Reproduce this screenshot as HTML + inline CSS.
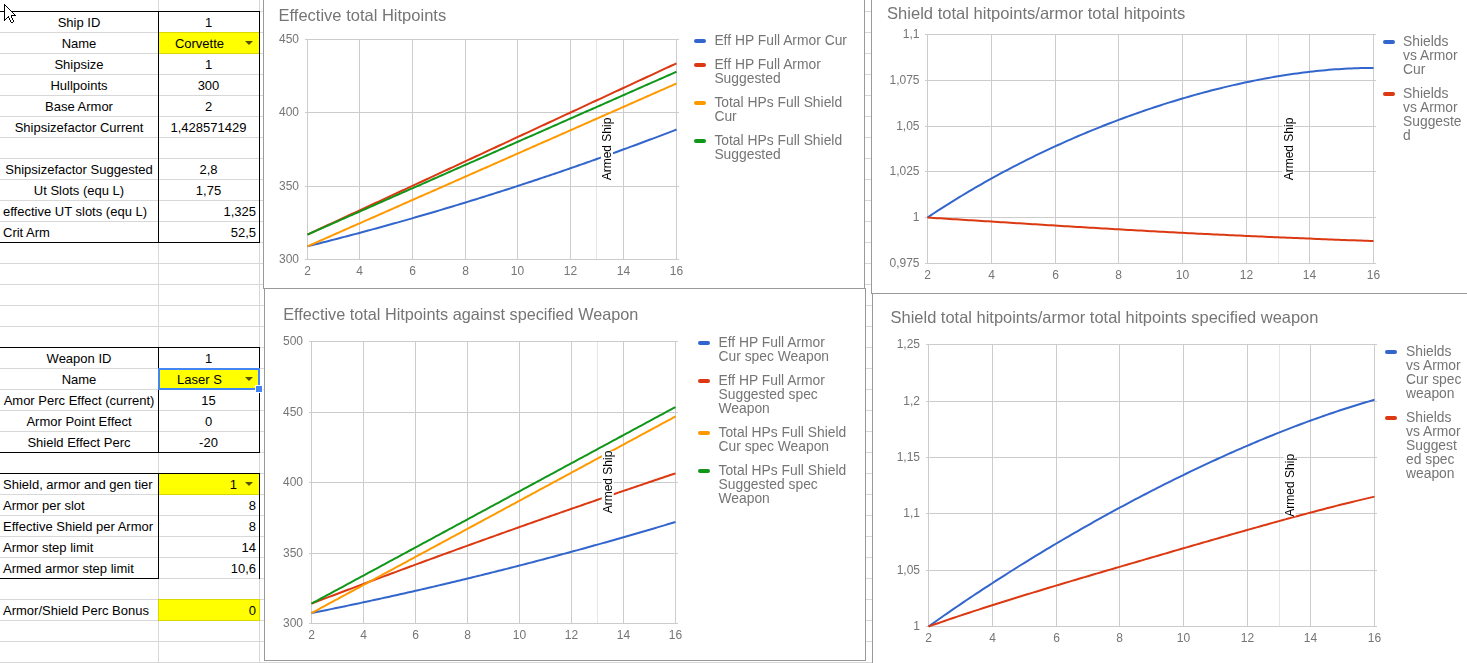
<!DOCTYPE html>
<html><head><meta charset="utf-8"><title>Sheet</title><style>
html,body{margin:0;padding:0;background:#fff;width:1467px;height:663px;overflow:hidden}
svg{display:block}
text{font-family:"Liberation Sans", sans-serif}
</style></head><body>
<svg width="1467" height="663" viewBox="0 0 1467 663">
<defs><filter id="gs" x="0" y="0" width="1467" height="663" filterUnits="userSpaceOnUse"><feColorMatrix type="identity"/></filter></defs>
<rect x="158" y="32" width="102" height="22" fill="#ffff00" />
<rect x="158" y="368" width="102" height="22" fill="#ffff00" />
<rect x="158" y="473" width="102" height="22" fill="#ffff00" />
<rect x="158" y="599" width="102" height="22" fill="#ffff00" />
<g opacity="0.15">
<rect x="0" y="11" width="1467" height="1" fill="#000" />
<rect x="0" y="32" width="1467" height="1" fill="#000" />
<rect x="0" y="53" width="1467" height="1" fill="#000" />
<rect x="0" y="74" width="1467" height="1" fill="#000" />
<rect x="0" y="95" width="1467" height="1" fill="#000" />
<rect x="0" y="116" width="1467" height="1" fill="#000" />
<rect x="0" y="137" width="1467" height="1" fill="#000" />
<rect x="0" y="158" width="1467" height="1" fill="#000" />
<rect x="0" y="179" width="1467" height="1" fill="#000" />
<rect x="0" y="200" width="1467" height="1" fill="#000" />
<rect x="0" y="221" width="1467" height="1" fill="#000" />
<rect x="0" y="242" width="1467" height="1" fill="#000" />
<rect x="0" y="263" width="1467" height="1" fill="#000" />
<rect x="0" y="284" width="1467" height="1" fill="#000" />
<rect x="0" y="305" width="1467" height="1" fill="#000" />
<rect x="0" y="326" width="1467" height="1" fill="#000" />
<rect x="0" y="347" width="1467" height="1" fill="#000" />
<rect x="0" y="368" width="1467" height="1" fill="#000" />
<rect x="0" y="389" width="1467" height="1" fill="#000" />
<rect x="0" y="410" width="1467" height="1" fill="#000" />
<rect x="0" y="431" width="1467" height="1" fill="#000" />
<rect x="0" y="452" width="1467" height="1" fill="#000" />
<rect x="0" y="473" width="1467" height="1" fill="#000" />
<rect x="0" y="494" width="1467" height="1" fill="#000" />
<rect x="0" y="515" width="1467" height="1" fill="#000" />
<rect x="0" y="536" width="1467" height="1" fill="#000" />
<rect x="0" y="557" width="1467" height="1" fill="#000" />
<rect x="0" y="578" width="1467" height="1" fill="#000" />
<rect x="0" y="599" width="1467" height="1" fill="#000" />
<rect x="0" y="620" width="1467" height="1" fill="#000" />
<rect x="0" y="641" width="1467" height="1" fill="#000" />
<rect x="0" y="662" width="1467" height="1" fill="#000" />
<rect x="158" y="0" width="1" height="663" fill="#000" />
<rect x="259" y="0" width="1" height="663" fill="#000" />
</g>
<rect x="0" y="11" width="260" height="1" fill="#000" />
<rect x="0" y="242" width="260" height="1" fill="#000" />
<rect x="158" y="11" width="1" height="232" fill="#000" />
<rect x="259" y="11" width="1" height="232" fill="#000" />
<rect x="0" y="347" width="260" height="1" fill="#000" />
<rect x="0" y="452" width="260" height="1" fill="#000" />
<rect x="158" y="347" width="1" height="106" fill="#000" />
<rect x="259" y="347" width="1" height="106" fill="#000" />
<rect x="0" y="473" width="260" height="1" fill="#000" />
<rect x="0" y="578" width="159" height="1" fill="#000" />
<rect x="158" y="473" width="1" height="106" fill="#000" />
<rect x="259" y="473" width="1" height="106" fill="#000" />
<text x="79" y="27" font-size="13" fill="#000" text-anchor="middle" >Ship ID</text>
<text x="208.5" y="27" font-size="13" fill="#000" text-anchor="middle" >1</text>
<text x="79" y="48" font-size="13" fill="#000" text-anchor="middle" >Name</text>
<text x="199.5" y="48" font-size="13" fill="#000" text-anchor="middle" >Corvette</text>
<path d="M245 41 L253 41 L249 45 Z" fill="rgba(0,0,0,0.68)"/>
<text x="79" y="69" font-size="13" fill="#000" text-anchor="middle" >Shipsize</text>
<text x="208.5" y="69" font-size="13" fill="#000" text-anchor="middle" >1</text>
<text x="79" y="90" font-size="13" fill="#000" text-anchor="middle" >Hullpoints</text>
<text x="208.5" y="90" font-size="13" fill="#000" text-anchor="middle" >300</text>
<text x="79" y="111" font-size="13" fill="#000" text-anchor="middle" >Base Armor</text>
<text x="208.5" y="111" font-size="13" fill="#000" text-anchor="middle" >2</text>
<text x="79" y="132" font-size="13" fill="#000" text-anchor="middle" >Shipsizefactor Current</text>
<text x="208.5" y="132" font-size="13" fill="#000" text-anchor="middle" >1,428571429</text>
<text x="79" y="174" font-size="13" fill="#000" text-anchor="middle" >Shipsizefactor Suggested</text>
<text x="208.5" y="174" font-size="13" fill="#000" text-anchor="middle" >2,8</text>
<text x="79" y="195" font-size="13" fill="#000" text-anchor="middle" >Ut Slots (equ L)</text>
<text x="208.5" y="195" font-size="13" fill="#000" text-anchor="middle" >1,75</text>
<text x="3" y="216" font-size="13" fill="#000" text-anchor="start" >effective UT slots (equ L)</text>
<text x="256" y="216" font-size="13" fill="#000" text-anchor="end" >1,325</text>
<text x="3" y="237" font-size="13" fill="#000" text-anchor="start" >Crit Arm</text>
<text x="256" y="237" font-size="13" fill="#000" text-anchor="end" >52,5</text>
<text x="79" y="363" font-size="13" fill="#000" text-anchor="middle" >Weapon ID</text>
<text x="208.5" y="363" font-size="13" fill="#000" text-anchor="middle" >1</text>
<text x="79" y="384" font-size="13" fill="#000" text-anchor="middle" >Name</text>
<text x="199.5" y="384" font-size="13" fill="#000" text-anchor="middle" >Laser S</text>
<path d="M245 377 L253 377 L249 381 Z" fill="rgba(0,0,0,0.68)"/>
<text x="79" y="405" font-size="13" fill="#000" text-anchor="middle" >Amor Perc Effect (current)</text>
<text x="208.5" y="405" font-size="13" fill="#000" text-anchor="middle" >15</text>
<text x="79" y="426" font-size="13" fill="#000" text-anchor="middle" >Armor Point Effect</text>
<text x="208.5" y="426" font-size="13" fill="#000" text-anchor="middle" >0</text>
<text x="79" y="447" font-size="13" fill="#000" text-anchor="middle" >Shield Effect Perc</text>
<text x="208.5" y="447" font-size="13" fill="#000" text-anchor="middle" >-20</text>
<text x="3" y="489" font-size="13" fill="#000" text-anchor="start" >Shield, armor and gen tier</text>
<text x="237" y="489" font-size="13" fill="#000" text-anchor="end" >1</text>
<path d="M245 482 L253 482 L249 486 Z" fill="rgba(0,0,0,0.68)"/>
<text x="3" y="510" font-size="13" fill="#000" text-anchor="start" >Armor per slot</text>
<text x="256" y="510" font-size="13" fill="#000" text-anchor="end" >8</text>
<text x="3" y="531" font-size="13" fill="#000" text-anchor="start" >Effective Shield per Armor</text>
<text x="256" y="531" font-size="13" fill="#000" text-anchor="end" >8</text>
<text x="3" y="552" font-size="13" fill="#000" text-anchor="start" >Armor step limit</text>
<text x="256" y="552" font-size="13" fill="#000" text-anchor="end" >14</text>
<text x="3" y="573" font-size="13" fill="#000" text-anchor="start" >Armed armor step limit</text>
<text x="256" y="573" font-size="13" fill="#000" text-anchor="end" >10,6</text>
<text x="3" y="615" font-size="13" fill="#000" text-anchor="start" >Armor/Shield Perc Bonus</text>
<text x="256" y="615" font-size="13" fill="#000" text-anchor="end" >0</text>
<rect x="158" y="368" width="102" height="2" fill="#4285f4" />
<rect x="158" y="388" width="102" height="2" fill="#4285f4" />
<rect x="158" y="368" width="2" height="22" fill="#4285f4" />
<rect x="258" y="368" width="2" height="22" fill="#4285f4" />
<rect x="255" y="385" width="8" height="8" fill="#fff" />
<rect x="256" y="386" width="6" height="6" fill="#4285f4" />
<rect x="263" y="-5" width="602" height="294" fill="#fff" />
<g filter="url(#gs)">
<rect x="263" y="-5" width="602" height="1" fill="#9a9a9a" />
<rect x="263" y="288" width="602" height="1" fill="#9a9a9a" />
<rect x="263" y="-5" width="1" height="294" fill="#9a9a9a" />
<rect x="864" y="-5" width="1" height="294" fill="#9a9a9a" />
<text x="278.5" y="21.200000000000003" font-size="16.5" fill="#757575" text-anchor="start" textLength="167.7" lengthAdjust="spacingAndGlyphs">Effective total Hitpoints</text>
<rect x="596" y="39" width="1" height="221" fill="#e6e6e6" />
<rect x="305" y="39" width="374" height="1" fill="#cccccc" />
<rect x="305" y="112" width="374" height="1" fill="#cccccc" />
<rect x="305" y="186" width="374" height="1" fill="#cccccc" />
<rect x="305" y="259" width="374" height="1" fill="#cccccc" />
<rect x="307" y="39" width="1" height="221" fill="#cccccc" />
<rect x="359" y="39" width="1" height="221" fill="#cccccc" />
<rect x="412" y="39" width="1" height="221" fill="#cccccc" />
<rect x="465" y="39" width="1" height="221" fill="#cccccc" />
<rect x="517" y="39" width="1" height="221" fill="#cccccc" />
<rect x="570" y="39" width="1" height="221" fill="#cccccc" />
<rect x="623" y="39" width="1" height="221" fill="#cccccc" />
<rect x="676" y="39" width="1" height="221" fill="#cccccc" />
<text x="299" y="42.9" font-size="12" fill="#757575" text-anchor="end" >450</text>
<text x="299" y="115.9" font-size="12" fill="#757575" text-anchor="end" >400</text>
<text x="299" y="189.9" font-size="12" fill="#757575" text-anchor="end" >350</text>
<text x="299" y="262.9" font-size="12" fill="#757575" text-anchor="end" >300</text>
<text x="307.5" y="275" font-size="12" fill="#757575" text-anchor="middle" >2</text>
<text x="359.5" y="275" font-size="12" fill="#757575" text-anchor="middle" >4</text>
<text x="412.5" y="275" font-size="12" fill="#757575" text-anchor="middle" >6</text>
<text x="465.5" y="275" font-size="12" fill="#757575" text-anchor="middle" >8</text>
<text x="517.5" y="275" font-size="12" fill="#757575" text-anchor="middle" >10</text>
<text x="570.5" y="275" font-size="12" fill="#757575" text-anchor="middle" >12</text>
<text x="623.5" y="275" font-size="12" fill="#757575" text-anchor="middle" >14</text>
<text x="676.5" y="275" font-size="12" fill="#757575" text-anchor="middle" >16</text>
<polyline points="307.50,246.30 310.14,245.65 312.77,244.99 315.41,244.33 318.04,243.66 320.68,243.00 323.31,242.33 325.95,241.66 328.59,240.99 331.22,240.31 333.86,239.63 336.49,238.95 339.13,238.27 341.76,237.58 344.40,236.90 347.04,236.20 349.67,235.51 352.31,234.82 354.94,234.12 357.58,233.41 360.21,232.71 362.85,232.00 365.49,231.30 368.12,230.58 370.76,229.87 373.39,229.15 376.03,228.43 378.66,227.71 381.30,226.99 383.94,226.26 386.57,225.53 389.21,224.80 391.84,224.06 394.48,223.33 397.11,222.59 399.75,221.84 402.39,221.10 405.02,220.35 407.66,219.60 410.29,218.85 412.93,218.09 415.56,217.33 418.20,216.57 420.84,215.81 423.47,215.04 426.11,214.28 428.74,213.51 431.38,212.73 434.01,211.96 436.65,211.18 439.29,210.40 441.92,209.61 444.56,208.83 447.19,208.04 449.83,207.25 452.46,206.45 455.10,205.65 457.74,204.86 460.37,204.05 463.01,203.25 465.64,202.44 468.28,201.63 470.91,200.82 473.55,200.01 476.19,199.19 478.82,198.37 481.46,197.55 484.09,196.72 486.73,195.89 489.36,195.06 492.00,194.23 494.64,193.40 497.27,192.56 499.91,191.72 502.54,190.88 505.18,190.03 507.81,189.18 510.45,188.33 513.09,187.48 515.72,186.62 518.36,185.76 520.99,184.90 523.63,184.04 526.26,183.17 528.90,182.30 531.54,181.43 534.17,180.56 536.81,179.68 539.44,178.80 542.08,177.92 544.71,177.04 547.35,176.15 549.99,175.26 552.62,174.37 555.26,173.47 557.89,172.58 560.53,171.68 563.16,170.78 565.80,169.87 568.44,168.96 571.07,168.05 573.71,167.14 576.34,166.23 578.98,165.31 581.61,164.39 584.25,163.46 586.89,162.54 589.52,161.61 592.16,160.68 594.79,159.75 597.43,158.81 600.06,157.87 602.70,156.93 605.34,155.99 607.97,155.04 610.61,154.09 613.24,153.14 615.88,152.19 618.51,151.23 621.15,150.27 623.79,149.31 626.42,148.35 629.06,147.38 631.69,146.41 634.33,145.44 636.96,144.47 639.60,143.49 642.24,142.51 644.87,141.53 647.51,140.54 650.14,139.56 652.78,138.57 655.41,137.58 658.05,136.58 660.69,135.58 663.32,134.58 665.96,133.58 668.59,132.57 671.23,131.57 673.86,130.56 676.50,129.54" fill="none" stroke="#3366cc" stroke-width="2" stroke-linejoin="round"/>
<polyline points="307.50,234.57 310.14,233.34 312.77,232.12 315.41,230.90 318.04,229.67 320.68,228.45 323.31,227.23 325.95,226.00 328.59,224.78 331.22,223.56 333.86,222.33 336.49,221.11 339.13,219.89 341.76,218.67 344.40,217.44 347.04,216.22 349.67,215.00 352.31,213.77 354.94,212.55 357.58,211.33 360.21,210.10 362.85,208.88 365.49,207.66 368.12,206.43 370.76,205.21 373.39,203.99 376.03,202.76 378.66,201.54 381.30,200.32 383.94,199.09 386.57,197.87 389.21,196.65 391.84,195.42 394.48,194.20 397.11,192.98 399.75,191.75 402.39,190.53 405.02,189.31 407.66,188.09 410.29,186.86 412.93,185.64 415.56,184.42 418.20,183.19 420.84,181.97 423.47,180.75 426.11,179.52 428.74,178.30 431.38,177.08 434.01,175.85 436.65,174.63 439.29,173.41 441.92,172.18 444.56,170.96 447.19,169.74 449.83,168.51 452.46,167.29 455.10,166.07 457.74,164.84 460.37,163.62 463.01,162.40 465.64,161.17 468.28,159.95 470.91,158.73 473.55,157.51 476.19,156.28 478.82,155.06 481.46,153.84 484.09,152.61 486.73,151.39 489.36,150.17 492.00,148.94 494.64,147.72 497.27,146.50 499.91,145.27 502.54,144.05 505.18,142.83 507.81,141.60 510.45,140.38 513.09,139.16 515.72,137.93 518.36,136.71 520.99,135.49 523.63,134.26 526.26,133.04 528.90,131.82 531.54,130.59 534.17,129.37 536.81,128.15 539.44,126.93 542.08,125.70 544.71,124.48 547.35,123.26 549.99,122.03 552.62,120.81 555.26,119.59 557.89,118.36 560.53,117.14 563.16,115.92 565.80,114.69 568.44,113.47 571.07,112.25 573.71,111.02 576.34,109.80 578.98,108.58 581.61,107.35 584.25,106.13 586.89,104.91 589.52,103.68 592.16,102.46 594.79,101.24 597.43,100.01 600.06,98.79 602.70,97.57 605.34,96.35 607.97,95.12 610.61,93.90 613.24,92.68 615.88,91.45 618.51,90.23 621.15,89.01 623.79,87.78 626.42,86.56 629.06,85.34 631.69,84.11 634.33,82.89 636.96,81.67 639.60,80.44 642.24,79.22 644.87,78.00 647.51,76.77 650.14,75.55 652.78,74.33 655.41,73.10 658.05,71.88 660.69,70.66 663.32,69.43 665.96,68.21 668.59,66.99 671.23,65.77 673.86,64.54 676.50,63.32" fill="none" stroke="#dc3912" stroke-width="2" stroke-linejoin="round"/>
<polyline points="307.50,246.30 310.14,245.14 312.77,243.97 315.41,242.81 318.04,241.65 320.68,240.48 323.31,239.32 325.95,238.16 328.59,237.00 331.22,235.83 333.86,234.67 336.49,233.51 339.13,232.34 341.76,231.18 344.40,230.02 347.04,228.85 349.67,227.69 352.31,226.53 354.94,225.36 357.58,224.20 360.21,223.04 362.85,221.88 365.49,220.71 368.12,219.55 370.76,218.39 373.39,217.22 376.03,216.06 378.66,214.90 381.30,213.73 383.94,212.57 386.57,211.41 389.21,210.24 391.84,209.08 394.48,207.92 397.11,206.76 399.75,205.59 402.39,204.43 405.02,203.27 407.66,202.10 410.29,200.94 412.93,199.78 415.56,198.61 418.20,197.45 420.84,196.29 423.47,195.13 426.11,193.96 428.74,192.80 431.38,191.64 434.01,190.47 436.65,189.31 439.29,188.15 441.92,186.98 444.56,185.82 447.19,184.66 449.83,183.49 452.46,182.33 455.10,181.17 457.74,180.01 460.37,178.84 463.01,177.68 465.64,176.52 468.28,175.35 470.91,174.19 473.55,173.03 476.19,171.86 478.82,170.70 481.46,169.54 484.09,168.37 486.73,167.21 489.36,166.05 492.00,164.89 494.64,163.72 497.27,162.56 499.91,161.40 502.54,160.23 505.18,159.07 507.81,157.91 510.45,156.74 513.09,155.58 515.72,154.42 518.36,153.25 520.99,152.09 523.63,150.93 526.26,149.77 528.90,148.60 531.54,147.44 534.17,146.28 536.81,145.11 539.44,143.95 542.08,142.79 544.71,141.62 547.35,140.46 549.99,139.30 552.62,138.13 555.26,136.97 557.89,135.81 560.53,134.65 563.16,133.48 565.80,132.32 568.44,131.16 571.07,129.99 573.71,128.83 576.34,127.67 578.98,126.50 581.61,125.34 584.25,124.18 586.89,123.01 589.52,121.85 592.16,120.69 594.79,119.53 597.43,118.36 600.06,117.20 602.70,116.04 605.34,114.87 607.97,113.71 610.61,112.55 613.24,111.38 615.88,110.22 618.51,109.06 621.15,107.90 623.79,106.73 626.42,105.57 629.06,104.41 631.69,103.24 634.33,102.08 636.96,100.92 639.60,99.75 642.24,98.59 644.87,97.43 647.51,96.26 650.14,95.10 652.78,93.94 655.41,92.78 658.05,91.61 660.69,90.45 663.32,89.29 665.96,88.12 668.59,86.96 671.23,85.80 673.86,84.63 676.50,83.47" fill="none" stroke="#ff9900" stroke-width="2" stroke-linejoin="round"/>
<polyline points="307.50,234.57 310.14,233.40 312.77,232.24 315.41,231.08 318.04,229.91 320.68,228.75 323.31,227.59 325.95,226.43 328.59,225.26 331.22,224.10 333.86,222.94 336.49,221.77 339.13,220.61 341.76,219.45 344.40,218.28 347.04,217.12 349.67,215.96 352.31,214.79 354.94,213.63 357.58,212.47 360.21,211.31 362.85,210.14 365.49,208.98 368.12,207.82 370.76,206.65 373.39,205.49 376.03,204.33 378.66,203.16 381.30,202.00 383.94,200.84 386.57,199.67 389.21,198.51 391.84,197.35 394.48,196.19 397.11,195.02 399.75,193.86 402.39,192.70 405.02,191.53 407.66,190.37 410.29,189.21 412.93,188.04 415.56,186.88 418.20,185.72 420.84,184.55 423.47,183.39 426.11,182.23 428.74,181.07 431.38,179.90 434.01,178.74 436.65,177.58 439.29,176.41 441.92,175.25 444.56,174.09 447.19,172.92 449.83,171.76 452.46,170.60 455.10,169.43 457.74,168.27 460.37,167.11 463.01,165.95 465.64,164.78 468.28,163.62 470.91,162.46 473.55,161.29 476.19,160.13 478.82,158.97 481.46,157.80 484.09,156.64 486.73,155.48 489.36,154.32 492.00,153.15 494.64,151.99 497.27,150.83 499.91,149.66 502.54,148.50 505.18,147.34 507.81,146.17 510.45,145.01 513.09,143.85 515.72,142.68 518.36,141.52 520.99,140.36 523.63,139.20 526.26,138.03 528.90,136.87 531.54,135.71 534.17,134.54 536.81,133.38 539.44,132.22 542.08,131.05 544.71,129.89 547.35,128.73 549.99,127.56 552.62,126.40 555.26,125.24 557.89,124.08 560.53,122.91 563.16,121.75 565.80,120.59 568.44,119.42 571.07,118.26 573.71,117.10 576.34,115.93 578.98,114.77 581.61,113.61 584.25,112.44 586.89,111.28 589.52,110.12 592.16,108.96 594.79,107.79 597.43,106.63 600.06,105.47 602.70,104.30 605.34,103.14 607.97,101.98 610.61,100.81 613.24,99.65 615.88,98.49 618.51,97.32 621.15,96.16 623.79,95.00 626.42,93.84 629.06,92.67 631.69,91.51 634.33,90.35 636.96,89.18 639.60,88.02 642.24,86.86 644.87,85.69 647.51,84.53 650.14,83.37 652.78,82.20 655.41,81.04 658.05,79.88 660.69,78.72 663.32,77.55 665.96,76.39 668.59,75.23 671.23,74.06 673.86,72.90 676.50,71.74" fill="none" stroke="#109618" stroke-width="2" stroke-linejoin="round"/>
<g transform="translate(607,149) rotate(-90)"><rect x="-31" y="-6" width="62" height="12" fill="#fff"/><text x="0" y="4.3" font-size="12" fill="#000" text-anchor="middle">Armed Ship</text></g>
<line x1="696" y1="41" x2="704" y2="41" stroke="#3366cc" stroke-width="4" stroke-linecap="round"/>
<text x="714.4" y="45" font-size="13.85" fill="#757575" text-anchor="start" >Eff HP Full Armor Cur</text>
<line x1="696" y1="65" x2="704" y2="65" stroke="#dc3912" stroke-width="4" stroke-linecap="round"/>
<text x="714.4" y="69" font-size="13.85" fill="#757575" text-anchor="start" >Eff HP Full Armor</text>
<text x="714.4" y="83" font-size="13.85" fill="#757575" text-anchor="start" >Suggested</text>
<line x1="696" y1="103" x2="704" y2="103" stroke="#ff9900" stroke-width="4" stroke-linecap="round"/>
<text x="714.4" y="107" font-size="13.85" fill="#757575" text-anchor="start" >Total HPs Full Shield</text>
<text x="714.4" y="121" font-size="13.85" fill="#757575" text-anchor="start" >Cur</text>
<line x1="696" y1="141" x2="704" y2="141" stroke="#109618" stroke-width="4" stroke-linecap="round"/>
<text x="714.4" y="145" font-size="13.85" fill="#757575" text-anchor="start" >Total HPs Full Shield</text>
<text x="714.4" y="159" font-size="13.85" fill="#757575" text-anchor="start" >Suggested</text>
</g>
<rect x="264" y="288" width="602" height="373" fill="#fff" />
<g filter="url(#gs)">
<rect x="264" y="288" width="602" height="1" fill="#9a9a9a" />
<rect x="264" y="660" width="602" height="1" fill="#9a9a9a" />
<rect x="264" y="288" width="1" height="373" fill="#9a9a9a" />
<rect x="865" y="288" width="1" height="373" fill="#9a9a9a" />
<text x="283.2" y="320.3" font-size="16.5" fill="#757575" text-anchor="start" textLength="355.2" lengthAdjust="spacingAndGlyphs">Effective total Hitpoints against specified Weapon</text>
<rect x="597" y="341" width="1" height="283" fill="#e6e6e6" />
<rect x="309" y="341" width="369" height="1" fill="#cccccc" />
<rect x="309" y="412" width="369" height="1" fill="#cccccc" />
<rect x="309" y="482" width="369" height="1" fill="#cccccc" />
<rect x="309" y="553" width="369" height="1" fill="#cccccc" />
<rect x="309" y="623" width="369" height="1" fill="#cccccc" />
<rect x="311" y="341" width="1" height="283" fill="#cccccc" />
<rect x="363" y="341" width="1" height="283" fill="#cccccc" />
<rect x="415" y="341" width="1" height="283" fill="#cccccc" />
<rect x="467" y="341" width="1" height="283" fill="#cccccc" />
<rect x="519" y="341" width="1" height="283" fill="#cccccc" />
<rect x="571" y="341" width="1" height="283" fill="#cccccc" />
<rect x="623" y="341" width="1" height="283" fill="#cccccc" />
<rect x="675" y="341" width="1" height="283" fill="#cccccc" />
<text x="303" y="344.9" font-size="12" fill="#757575" text-anchor="end" >500</text>
<text x="303" y="415.9" font-size="12" fill="#757575" text-anchor="end" >450</text>
<text x="303" y="485.9" font-size="12" fill="#757575" text-anchor="end" >400</text>
<text x="303" y="556.9" font-size="12" fill="#757575" text-anchor="end" >350</text>
<text x="303" y="626.9" font-size="12" fill="#757575" text-anchor="end" >300</text>
<text x="311.5" y="639" font-size="12" fill="#757575" text-anchor="middle" >2</text>
<text x="363.5" y="639" font-size="12" fill="#757575" text-anchor="middle" >4</text>
<text x="415.5" y="639" font-size="12" fill="#757575" text-anchor="middle" >6</text>
<text x="467.5" y="639" font-size="12" fill="#757575" text-anchor="middle" >8</text>
<text x="519.5" y="639" font-size="12" fill="#757575" text-anchor="middle" >10</text>
<text x="571.5" y="639" font-size="12" fill="#757575" text-anchor="middle" >12</text>
<text x="623.5" y="639" font-size="12" fill="#757575" text-anchor="middle" >14</text>
<text x="675.5" y="639" font-size="12" fill="#757575" text-anchor="middle" >16</text>
<polyline points="311.50,613.07 314.10,612.55 316.70,612.03 319.30,611.50 321.90,610.98 324.50,610.45 327.10,609.92 329.70,609.39 332.30,608.86 334.90,608.32 337.50,607.79 340.10,607.25 342.70,606.71 345.30,606.16 347.90,605.62 350.50,605.07 353.10,604.53 355.70,603.98 358.30,603.43 360.90,602.87 363.50,602.32 366.10,601.76 368.70,601.20 371.30,600.64 373.90,600.08 376.50,599.51 379.10,598.94 381.70,598.38 384.30,597.81 386.90,597.23 389.50,596.66 392.10,596.08 394.70,595.50 397.30,594.93 399.90,594.34 402.50,593.76 405.10,593.17 407.70,592.59 410.30,592.00 412.90,591.41 415.50,590.81 418.10,590.22 420.70,589.62 423.30,589.02 425.90,588.42 428.50,587.82 431.10,587.21 433.70,586.61 436.30,586.00 438.90,585.39 441.50,584.78 444.10,584.16 446.70,583.55 449.30,582.93 451.90,582.31 454.50,581.69 457.10,581.07 459.70,580.44 462.30,579.81 464.90,579.19 467.50,578.55 470.10,577.92 472.70,577.29 475.30,576.65 477.90,576.01 480.50,575.37 483.10,574.73 485.70,574.09 488.30,573.44 490.90,572.79 493.50,572.14 496.10,571.49 498.70,570.84 501.30,570.18 503.90,569.52 506.50,568.87 509.10,568.20 511.70,567.54 514.30,566.88 516.90,566.21 519.50,565.54 522.10,564.87 524.70,564.20 527.30,563.52 529.90,562.85 532.50,562.17 535.10,561.49 537.70,560.81 540.30,560.12 542.90,559.44 545.50,558.75 548.10,558.06 550.70,557.37 553.30,556.68 555.90,555.98 558.50,555.29 561.10,554.59 563.70,553.89 566.30,553.18 568.90,552.48 571.50,551.77 574.10,551.07 576.70,550.36 579.30,549.64 581.90,548.93 584.50,548.21 587.10,547.50 589.70,546.78 592.30,546.05 594.90,545.33 597.50,544.61 600.10,543.88 602.70,543.15 605.30,542.42 607.90,541.69 610.50,540.95 613.10,540.22 615.70,539.48 618.30,538.74 620.90,537.99 623.50,537.25 626.10,536.50 628.70,535.76 631.30,535.01 633.90,534.26 636.50,533.50 639.10,532.75 641.70,531.99 644.30,531.23 646.90,530.47 649.50,529.71 652.10,528.94 654.70,528.18 657.30,527.41 659.90,526.64 662.50,525.86 665.10,525.09 667.70,524.31 670.30,523.54 672.90,522.76 675.50,521.97" fill="none" stroke="#3366cc" stroke-width="2" stroke-linejoin="round"/>
<polyline points="311.50,603.62 314.10,602.63 316.70,601.64 319.30,600.65 321.90,599.66 324.50,598.67 327.10,597.68 329.70,596.69 332.30,595.71 334.90,594.72 337.50,593.74 340.10,592.76 342.70,591.77 345.30,590.79 347.90,589.81 350.50,588.83 353.10,587.86 355.70,586.88 358.30,585.90 360.90,584.92 363.50,583.95 366.10,582.98 368.70,582.00 371.30,581.03 373.90,580.06 376.50,579.09 379.10,578.12 381.70,577.15 384.30,576.18 386.90,575.21 389.50,574.25 392.10,573.28 394.70,572.32 397.30,571.35 399.90,570.39 402.50,569.43 405.10,568.47 407.70,567.51 410.30,566.55 412.90,565.59 415.50,564.63 418.10,563.68 420.70,562.72 423.30,561.77 425.90,560.81 428.50,559.86 431.10,558.91 433.70,557.95 436.30,557.00 438.90,556.05 441.50,555.11 444.10,554.16 446.70,553.21 449.30,552.27 451.90,551.32 454.50,550.38 457.10,549.43 459.70,548.49 462.30,547.55 464.90,546.61 467.50,545.67 470.10,544.73 472.70,543.79 475.30,542.85 477.90,541.92 480.50,540.98 483.10,540.05 485.70,539.11 488.30,538.18 490.90,537.25 493.50,536.32 496.10,535.39 498.70,534.46 501.30,533.53 503.90,532.60 506.50,531.68 509.10,530.75 511.70,529.83 514.30,528.90 516.90,527.98 519.50,527.06 522.10,526.13 524.70,525.21 527.30,524.29 529.90,523.38 532.50,522.46 535.10,521.54 537.70,520.63 540.30,519.71 542.90,518.80 545.50,517.88 548.10,516.97 550.70,516.06 553.30,515.15 555.90,514.24 558.50,513.33 561.10,512.42 563.70,511.51 566.30,510.61 568.90,509.70 571.50,508.80 574.10,507.89 576.70,506.99 579.30,506.09 581.90,505.19 584.50,504.29 587.10,503.39 589.70,502.49 592.30,501.59 594.90,500.69 597.50,499.80 600.10,498.90 602.70,498.01 605.30,497.12 607.90,496.22 610.50,495.33 613.10,494.44 615.70,493.55 618.30,492.66 620.90,491.78 623.50,490.89 626.10,490.00 628.70,489.12 631.30,488.23 633.90,487.35 636.50,486.47 639.10,485.59 641.70,484.71 644.30,483.83 646.90,482.95 649.50,482.07 652.10,481.19 654.70,480.31 657.30,479.44 659.90,478.56 662.50,477.69 665.10,476.82 667.70,475.95 670.30,475.07 672.90,474.20 675.50,473.34" fill="none" stroke="#dc3912" stroke-width="2" stroke-linejoin="round"/>
<polyline points="311.50,613.07 314.10,611.66 316.70,610.26 319.30,608.85 321.90,607.45 324.50,606.04 327.10,604.64 329.70,603.24 332.30,601.83 334.90,600.43 337.50,599.02 340.10,597.62 342.70,596.21 345.30,594.81 347.90,593.40 350.50,592.00 353.10,590.60 355.70,589.19 358.30,587.79 360.90,586.38 363.50,584.98 366.10,583.57 368.70,582.17 371.30,580.77 373.90,579.36 376.50,577.96 379.10,576.55 381.70,575.15 384.30,573.74 386.90,572.34 389.50,570.94 392.10,569.53 394.70,568.13 397.30,566.72 399.90,565.32 402.50,563.91 405.10,562.51 407.70,561.10 410.30,559.70 412.90,558.30 415.50,556.89 418.10,555.49 420.70,554.08 423.30,552.68 425.90,551.27 428.50,549.87 431.10,548.47 433.70,547.06 436.30,545.66 438.90,544.25 441.50,542.85 444.10,541.44 446.70,540.04 449.30,538.63 451.90,537.23 454.50,535.83 457.10,534.42 459.70,533.02 462.30,531.61 464.90,530.21 467.50,528.80 470.10,527.40 472.70,526.00 475.30,524.59 477.90,523.19 480.50,521.78 483.10,520.38 485.70,518.97 488.30,517.57 490.90,516.17 493.50,514.76 496.10,513.36 498.70,511.95 501.30,510.55 503.90,509.14 506.50,507.74 509.10,506.33 511.70,504.93 514.30,503.53 516.90,502.12 519.50,500.72 522.10,499.31 524.70,497.91 527.30,496.50 529.90,495.10 532.50,493.70 535.10,492.29 537.70,490.89 540.30,489.48 542.90,488.08 545.50,486.67 548.10,485.27 550.70,483.86 553.30,482.46 555.90,481.06 558.50,479.65 561.10,478.25 563.70,476.84 566.30,475.44 568.90,474.03 571.50,472.63 574.10,471.23 576.70,469.82 579.30,468.42 581.90,467.01 584.50,465.61 587.10,464.20 589.70,462.80 592.30,461.40 594.90,459.99 597.50,458.59 600.10,457.18 602.70,455.78 605.30,454.37 607.90,452.97 610.50,451.56 613.10,450.16 615.70,448.76 618.30,447.35 620.90,445.95 623.50,444.54 626.10,443.14 628.70,441.73 631.30,440.33 633.90,438.93 636.50,437.52 639.10,436.12 641.70,434.71 644.30,433.31 646.90,431.90 649.50,430.50 652.10,429.09 654.70,427.69 657.30,426.29 659.90,424.88 662.50,423.48 665.10,422.07 667.70,420.67 670.30,419.26 672.90,417.86 675.50,416.46" fill="none" stroke="#ff9900" stroke-width="2" stroke-linejoin="round"/>
<polyline points="311.50,603.62 314.10,602.21 316.70,600.81 319.30,599.41 321.90,598.00 324.50,596.60 327.10,595.19 329.70,593.79 332.30,592.38 334.90,590.98 337.50,589.58 340.10,588.17 342.70,586.77 345.30,585.36 347.90,583.96 350.50,582.55 353.10,581.15 355.70,579.74 358.30,578.34 360.90,576.94 363.50,575.53 366.10,574.13 368.70,572.72 371.30,571.32 373.90,569.91 376.50,568.51 379.10,567.11 381.70,565.70 384.30,564.30 386.90,562.89 389.50,561.49 392.10,560.08 394.70,558.68 397.30,557.28 399.90,555.87 402.50,554.47 405.10,553.06 407.70,551.66 410.30,550.25 412.90,548.85 415.50,547.44 418.10,546.04 420.70,544.64 423.30,543.23 425.90,541.83 428.50,540.42 431.10,539.02 433.70,537.61 436.30,536.21 438.90,534.81 441.50,533.40 444.10,532.00 446.70,530.59 449.30,529.19 451.90,527.78 454.50,526.38 457.10,524.97 459.70,523.57 462.30,522.17 464.90,520.76 467.50,519.36 470.10,517.95 472.70,516.55 475.30,515.14 477.90,513.74 480.50,512.34 483.10,510.93 485.70,509.53 488.30,508.12 490.90,506.72 493.50,505.31 496.10,503.91 498.70,502.51 501.30,501.10 503.90,499.70 506.50,498.29 509.10,496.89 511.70,495.48 514.30,494.08 516.90,492.67 519.50,491.27 522.10,489.87 524.70,488.46 527.30,487.06 529.90,485.65 532.50,484.25 535.10,482.84 537.70,481.44 540.30,480.04 542.90,478.63 545.50,477.23 548.10,475.82 550.70,474.42 553.30,473.01 555.90,471.61 558.50,470.20 561.10,468.80 563.70,467.40 566.30,465.99 568.90,464.59 571.50,463.18 574.10,461.78 576.70,460.37 579.30,458.97 581.90,457.57 584.50,456.16 587.10,454.76 589.70,453.35 592.30,451.95 594.90,450.54 597.50,449.14 600.10,447.74 602.70,446.33 605.30,444.93 607.90,443.52 610.50,442.12 613.10,440.71 615.70,439.31 618.30,437.90 620.90,436.50 623.50,435.10 626.10,433.69 628.70,432.29 631.30,430.88 633.90,429.48 636.50,428.07 639.10,426.67 641.70,425.27 644.30,423.86 646.90,422.46 649.50,421.05 652.10,419.65 654.70,418.24 657.30,416.84 659.90,415.43 662.50,414.03 665.10,412.63 667.70,411.22 670.30,409.82 672.90,408.41 675.50,407.01" fill="none" stroke="#109618" stroke-width="2" stroke-linejoin="round"/>
<g transform="translate(607.8,482) rotate(-90)"><rect x="-31" y="-6" width="62" height="12" fill="#fff"/><text x="0" y="4.3" font-size="12" fill="#000" text-anchor="middle">Armed Ship</text></g>
<line x1="700" y1="343" x2="708" y2="343" stroke="#3366cc" stroke-width="4" stroke-linecap="round"/>
<text x="718.5" y="347" font-size="13.85" fill="#757575" text-anchor="start" >Eff HP Full Armor</text>
<text x="718.5" y="361" font-size="13.85" fill="#757575" text-anchor="start" >Cur spec Weapon</text>
<line x1="700" y1="381" x2="708" y2="381" stroke="#dc3912" stroke-width="4" stroke-linecap="round"/>
<text x="718.5" y="385" font-size="13.85" fill="#757575" text-anchor="start" >Eff HP Full Armor</text>
<text x="718.5" y="399" font-size="13.85" fill="#757575" text-anchor="start" >Suggested spec</text>
<text x="718.5" y="413" font-size="13.85" fill="#757575" text-anchor="start" >Weapon</text>
<line x1="700" y1="433" x2="708" y2="433" stroke="#ff9900" stroke-width="4" stroke-linecap="round"/>
<text x="718.5" y="437" font-size="13.85" fill="#757575" text-anchor="start" >Total HPs Full Shield</text>
<text x="718.5" y="451" font-size="13.85" fill="#757575" text-anchor="start" >Cur spec Weapon</text>
<line x1="700" y1="471" x2="708" y2="471" stroke="#109618" stroke-width="4" stroke-linecap="round"/>
<text x="718.5" y="475" font-size="13.85" fill="#757575" text-anchor="start" >Total HPs Full Shield</text>
<text x="718.5" y="489" font-size="13.85" fill="#757575" text-anchor="start" >Suggested spec</text>
<text x="718.5" y="503" font-size="13.85" fill="#757575" text-anchor="start" >Weapon</text>
</g>
<rect x="871" y="-5" width="600" height="299" fill="#fff" />
<g filter="url(#gs)">
<rect x="871" y="-5" width="600" height="1" fill="#9a9a9a" />
<rect x="871" y="293" width="600" height="1" fill="#9a9a9a" />
<rect x="871" y="-5" width="1" height="299" fill="#9a9a9a" />
<rect x="1470" y="-5" width="1" height="299" fill="#9a9a9a" />
<text x="887" y="18.5" font-size="16.5" fill="#757575" text-anchor="start" textLength="298.4" lengthAdjust="spacingAndGlyphs">Shield total hitpoints/armor total hitpoints</text>
<rect x="1278" y="34" width="1" height="230" fill="#e6e6e6" />
<rect x="925" y="34" width="451" height="1" fill="#cccccc" />
<rect x="925" y="80" width="451" height="1" fill="#cccccc" />
<rect x="925" y="126" width="451" height="1" fill="#cccccc" />
<rect x="925" y="171" width="451" height="1" fill="#cccccc" />
<rect x="925" y="217" width="451" height="1" fill="#cccccc" />
<rect x="925" y="263" width="451" height="1" fill="#cccccc" />
<rect x="927" y="34" width="1" height="230" fill="#cccccc" />
<rect x="991" y="34" width="1" height="230" fill="#cccccc" />
<rect x="1055" y="34" width="1" height="230" fill="#cccccc" />
<rect x="1118" y="34" width="1" height="230" fill="#cccccc" />
<rect x="1182" y="34" width="1" height="230" fill="#cccccc" />
<rect x="1246" y="34" width="1" height="230" fill="#cccccc" />
<rect x="1309" y="34" width="1" height="230" fill="#cccccc" />
<rect x="1373" y="34" width="1" height="230" fill="#cccccc" />
<text x="919.5" y="37.9" font-size="12" fill="#757575" text-anchor="end" >1,1</text>
<text x="919.5" y="83.9" font-size="12" fill="#757575" text-anchor="end" >1,075</text>
<text x="919.5" y="129.9" font-size="12" fill="#757575" text-anchor="end" >1,05</text>
<text x="919.5" y="174.9" font-size="12" fill="#757575" text-anchor="end" >1,025</text>
<text x="919.5" y="220.9" font-size="12" fill="#757575" text-anchor="end" >1</text>
<text x="919.5" y="266.9" font-size="12" fill="#757575" text-anchor="end" >0,975</text>
<text x="927.5" y="279" font-size="12" fill="#757575" text-anchor="middle" >2</text>
<text x="991.5" y="279" font-size="12" fill="#757575" text-anchor="middle" >4</text>
<text x="1055.5" y="279" font-size="12" fill="#757575" text-anchor="middle" >6</text>
<text x="1118.5" y="279" font-size="12" fill="#757575" text-anchor="middle" >8</text>
<text x="1182.5" y="279" font-size="12" fill="#757575" text-anchor="middle" >10</text>
<text x="1246.5" y="279" font-size="12" fill="#757575" text-anchor="middle" >12</text>
<text x="1309.5" y="279" font-size="12" fill="#757575" text-anchor="middle" >14</text>
<text x="1373.5" y="279" font-size="12" fill="#757575" text-anchor="middle" >16</text>
<polyline points="927.50,217.50 930.69,215.38 933.87,213.28 937.06,211.19 940.24,209.13 943.43,207.09 946.61,205.07 949.80,203.06 952.99,201.07 956.17,199.11 959.36,197.16 962.54,195.23 965.73,193.31 968.91,191.42 972.10,189.54 975.29,187.68 978.47,185.84 981.66,184.02 984.84,182.21 988.03,180.42 991.21,178.64 994.40,176.88 997.59,175.14 1000.77,173.42 1003.96,171.71 1007.14,170.01 1010.33,168.34 1013.51,166.68 1016.70,165.03 1019.89,163.40 1023.07,161.78 1026.26,160.18 1029.44,158.60 1032.63,157.03 1035.81,155.47 1039.00,153.93 1042.19,152.40 1045.37,150.89 1048.56,149.39 1051.74,147.91 1054.93,146.44 1058.11,144.98 1061.30,143.54 1064.49,142.12 1067.67,140.70 1070.86,139.30 1074.04,137.92 1077.23,136.54 1080.41,135.18 1083.60,133.84 1086.79,132.51 1089.97,131.19 1093.16,129.88 1096.34,128.59 1099.53,127.31 1102.71,126.04 1105.90,124.79 1109.09,123.55 1112.27,122.32 1115.46,121.11 1118.64,119.90 1121.83,118.71 1125.01,117.54 1128.20,116.37 1131.39,115.22 1134.57,114.09 1137.76,112.96 1140.94,111.85 1144.13,110.75 1147.31,109.66 1150.50,108.59 1153.69,107.52 1156.87,106.47 1160.06,105.44 1163.24,104.41 1166.43,103.40 1169.61,102.40 1172.80,101.42 1175.99,100.44 1179.17,99.48 1182.36,98.54 1185.54,97.60 1188.73,96.68 1191.91,95.77 1195.10,94.87 1198.29,93.99 1201.47,93.12 1204.66,92.26 1207.84,91.42 1211.03,90.59 1214.21,89.77 1217.40,88.96 1220.59,88.17 1223.77,87.40 1226.96,86.63 1230.14,85.88 1233.33,85.14 1236.51,84.42 1239.70,83.71 1242.89,83.01 1246.07,82.33 1249.26,81.66 1252.44,81.01 1255.63,80.37 1258.81,79.75 1262.00,79.14 1265.19,78.54 1268.37,77.96 1271.56,77.39 1274.74,76.84 1277.93,76.30 1281.11,75.78 1284.30,75.27 1287.49,74.78 1290.67,74.31 1293.86,73.85 1297.04,73.40 1300.23,72.97 1303.41,72.56 1306.60,72.17 1309.79,71.79 1312.97,71.42 1316.16,71.08 1319.34,70.75 1322.53,70.43 1325.71,70.14 1328.90,69.86 1332.09,69.60 1335.27,69.36 1338.46,69.13 1341.64,68.92 1344.83,68.74 1348.01,68.56 1351.20,68.41 1354.39,68.28 1357.57,68.16 1360.76,68.07 1363.94,67.99 1367.13,67.94 1370.31,67.90 1373.50,67.88" fill="none" stroke="#3366cc" stroke-width="2" stroke-linejoin="round"/>
<polyline points="927.50,217.56 930.69,217.75 933.87,217.95 937.06,218.15 940.24,218.34 943.43,218.54 946.61,218.74 949.80,218.94 952.99,219.14 956.17,219.34 959.36,219.54 962.54,219.74 965.73,219.94 968.91,220.14 972.10,220.34 975.29,220.54 978.47,220.74 981.66,220.94 984.84,221.15 988.03,221.35 991.21,221.55 994.40,221.75 997.59,221.95 1000.77,222.16 1003.96,222.36 1007.14,222.56 1010.33,222.76 1013.51,222.96 1016.70,223.16 1019.89,223.36 1023.07,223.57 1026.26,223.77 1029.44,223.97 1032.63,224.17 1035.81,224.37 1039.00,224.56 1042.19,224.76 1045.37,224.96 1048.56,225.16 1051.74,225.36 1054.93,225.55 1058.11,225.75 1061.30,225.95 1064.49,226.14 1067.67,226.34 1070.86,226.53 1074.04,226.72 1077.23,226.92 1080.41,227.11 1083.60,227.30 1086.79,227.49 1089.97,227.68 1093.16,227.87 1096.34,228.06 1099.53,228.25 1102.71,228.43 1105.90,228.62 1109.09,228.81 1112.27,228.99 1115.46,229.18 1118.64,229.36 1121.83,229.54 1125.01,229.72 1128.20,229.90 1131.39,230.08 1134.57,230.26 1137.76,230.44 1140.94,230.61 1144.13,230.79 1147.31,230.97 1150.50,231.14 1153.69,231.31 1156.87,231.48 1160.06,231.66 1163.24,231.83 1166.43,231.99 1169.61,232.16 1172.80,232.33 1175.99,232.50 1179.17,232.66 1182.36,232.83 1185.54,232.99 1188.73,233.15 1191.91,233.31 1195.10,233.47 1198.29,233.63 1201.47,233.79 1204.66,233.95 1207.84,234.10 1211.03,234.26 1214.21,234.41 1217.40,234.57 1220.59,234.72 1223.77,234.87 1226.96,235.02 1230.14,235.17 1233.33,235.32 1236.51,235.47 1239.70,235.61 1242.89,235.76 1246.07,235.90 1249.26,236.05 1252.44,236.19 1255.63,236.33 1258.81,236.48 1262.00,236.62 1265.19,236.76 1268.37,236.89 1271.56,237.03 1274.74,237.17 1277.93,237.30 1281.11,237.44 1284.30,237.57 1287.49,237.71 1290.67,237.84 1293.86,237.97 1297.04,238.10 1300.23,238.24 1303.41,238.37 1306.60,238.50 1309.79,238.62 1312.97,238.75 1316.16,238.88 1319.34,239.01 1322.53,239.13 1325.71,239.26 1328.90,239.38 1332.09,239.51 1335.27,239.63 1338.46,239.76 1341.64,239.88 1344.83,240.00 1348.01,240.13 1351.20,240.25 1354.39,240.37 1357.57,240.49 1360.76,240.61 1363.94,240.73 1367.13,240.85 1370.31,240.97 1373.50,241.09" fill="none" stroke="#dc3912" stroke-width="2" stroke-linejoin="round"/>
<g transform="translate(1288.4,149) rotate(-90)"><rect x="-31" y="-6" width="62" height="12" fill="#fff"/><text x="0" y="4.3" font-size="12" fill="#000" text-anchor="middle">Armed Ship</text></g>
<line x1="1385" y1="42" x2="1393" y2="42" stroke="#3366cc" stroke-width="4" stroke-linecap="round"/>
<text x="1403" y="46" font-size="13.85" fill="#757575" text-anchor="start" >Shields</text>
<text x="1403" y="60" font-size="13.85" fill="#757575" text-anchor="start" >vs Armor</text>
<text x="1403" y="74" font-size="13.85" fill="#757575" text-anchor="start" >Cur</text>
<line x1="1385" y1="94" x2="1393" y2="94" stroke="#dc3912" stroke-width="4" stroke-linecap="round"/>
<text x="1403" y="98" font-size="13.85" fill="#757575" text-anchor="start" >Shields</text>
<text x="1403" y="112" font-size="13.85" fill="#757575" text-anchor="start" >vs Armor</text>
<text x="1403" y="126" font-size="13.85" fill="#757575" text-anchor="start" >Suggeste</text>
<text x="1403" y="140" font-size="13.85" fill="#757575" text-anchor="start" >d</text>
</g>
<rect x="872" y="293" width="599" height="378" fill="#fff" />
<g filter="url(#gs)">
<rect x="872" y="293" width="599" height="1" fill="#9a9a9a" />
<rect x="872" y="670" width="599" height="1" fill="#9a9a9a" />
<rect x="872" y="293" width="1" height="378" fill="#9a9a9a" />
<rect x="1470" y="293" width="1" height="378" fill="#9a9a9a" />
<text x="890.6" y="322.8" font-size="16.5" fill="#757575" text-anchor="start" textLength="427.8" lengthAdjust="spacingAndGlyphs">Shield total hitpoints/armor total hitpoints specified weapon</text>
<rect x="1279" y="344" width="1" height="283" fill="#e6e6e6" />
<rect x="926" y="344" width="451" height="1" fill="#cccccc" />
<rect x="926" y="401" width="451" height="1" fill="#cccccc" />
<rect x="926" y="457" width="451" height="1" fill="#cccccc" />
<rect x="926" y="513" width="451" height="1" fill="#cccccc" />
<rect x="926" y="570" width="451" height="1" fill="#cccccc" />
<rect x="926" y="626" width="451" height="1" fill="#cccccc" />
<rect x="928" y="344" width="1" height="283" fill="#cccccc" />
<rect x="992" y="344" width="1" height="283" fill="#cccccc" />
<rect x="1056" y="344" width="1" height="283" fill="#cccccc" />
<rect x="1119" y="344" width="1" height="283" fill="#cccccc" />
<rect x="1183" y="344" width="1" height="283" fill="#cccccc" />
<rect x="1247" y="344" width="1" height="283" fill="#cccccc" />
<rect x="1310" y="344" width="1" height="283" fill="#cccccc" />
<rect x="1374" y="344" width="1" height="283" fill="#cccccc" />
<text x="920" y="347.9" font-size="12" fill="#757575" text-anchor="end" >1,25</text>
<text x="920" y="404.9" font-size="12" fill="#757575" text-anchor="end" >1,2</text>
<text x="920" y="460.9" font-size="12" fill="#757575" text-anchor="end" >1,15</text>
<text x="920" y="516.9" font-size="12" fill="#757575" text-anchor="end" >1,1</text>
<text x="920" y="573.9" font-size="12" fill="#757575" text-anchor="end" >1,05</text>
<text x="920" y="629.9" font-size="12" fill="#757575" text-anchor="end" >1</text>
<text x="928.5" y="642" font-size="12" fill="#757575" text-anchor="middle" >2</text>
<text x="992.5" y="642" font-size="12" fill="#757575" text-anchor="middle" >4</text>
<text x="1056.5" y="642" font-size="12" fill="#757575" text-anchor="middle" >6</text>
<text x="1119.5" y="642" font-size="12" fill="#757575" text-anchor="middle" >8</text>
<text x="1183.5" y="642" font-size="12" fill="#757575" text-anchor="middle" >10</text>
<text x="1247.5" y="642" font-size="12" fill="#757575" text-anchor="middle" >12</text>
<text x="1310.5" y="642" font-size="12" fill="#757575" text-anchor="middle" >14</text>
<text x="1374.5" y="642" font-size="12" fill="#757575" text-anchor="middle" >16</text>
<polyline points="928.50,626.48 931.69,624.22 934.87,621.97 938.06,619.73 941.24,617.50 944.43,615.28 947.61,613.07 950.80,610.88 953.99,608.69 957.17,606.51 960.36,604.34 963.54,602.19 966.73,600.04 969.91,597.90 973.10,595.78 976.29,593.66 979.47,591.55 982.66,589.46 985.84,587.37 989.03,585.29 992.21,583.22 995.40,581.16 998.59,579.11 1001.77,577.07 1004.96,575.04 1008.14,573.02 1011.33,571.00 1014.51,569.00 1017.70,567.00 1020.89,565.02 1024.07,563.04 1027.26,561.07 1030.44,559.11 1033.63,557.16 1036.81,555.22 1040.00,553.29 1043.19,551.36 1046.37,549.45 1049.56,547.54 1052.74,545.64 1055.93,543.75 1059.11,541.87 1062.30,540.00 1065.49,538.14 1068.67,536.28 1071.86,534.43 1075.04,532.59 1078.23,530.76 1081.41,528.94 1084.60,527.13 1087.79,525.32 1090.97,523.53 1094.16,521.74 1097.34,519.96 1100.53,518.18 1103.71,516.42 1106.90,514.66 1110.09,512.92 1113.27,511.18 1116.46,509.45 1119.64,507.72 1122.83,506.01 1126.01,504.30 1129.20,502.61 1132.39,500.92 1135.57,499.24 1138.76,497.56 1141.94,495.90 1145.13,494.24 1148.31,492.60 1151.50,490.96 1154.69,489.33 1157.87,487.70 1161.06,486.09 1164.24,484.48 1167.43,482.89 1170.61,481.30 1173.80,479.72 1176.99,478.15 1180.17,476.58 1183.36,475.03 1186.54,473.48 1189.73,471.95 1192.91,470.42 1196.10,468.90 1199.29,467.39 1202.47,465.89 1205.66,464.39 1208.84,462.91 1212.03,461.43 1215.21,459.97 1218.40,458.51 1221.59,457.06 1224.77,455.63 1227.96,454.20 1231.14,452.78 1234.33,451.37 1237.51,449.96 1240.70,448.57 1243.89,447.19 1247.07,445.82 1250.26,444.46 1253.44,443.10 1256.63,441.76 1259.81,440.43 1263.00,439.11 1266.19,437.79 1269.37,436.49 1272.56,435.20 1275.74,433.91 1278.93,432.64 1282.11,431.38 1285.30,430.13 1288.49,428.89 1291.67,427.66 1294.86,426.44 1298.04,425.23 1301.23,424.04 1304.41,422.85 1307.60,421.68 1310.79,420.51 1313.97,419.36 1317.16,418.22 1320.34,417.09 1323.53,415.98 1326.71,414.87 1329.90,413.78 1333.09,412.70 1336.27,411.63 1339.46,410.57 1342.64,409.52 1345.83,408.49 1349.01,407.47 1352.20,406.47 1355.39,405.47 1358.57,404.49 1361.76,403.52 1364.94,402.57 1368.13,401.63 1371.31,400.70 1374.50,399.78" fill="none" stroke="#3366cc" stroke-width="2" stroke-linejoin="round"/>
<polyline points="928.50,626.56 931.69,625.43 934.87,624.31 938.06,623.20 941.24,622.09 944.43,621.00 947.61,619.91 950.80,618.82 953.99,617.74 957.17,616.67 960.36,615.61 963.54,614.55 966.73,613.49 969.91,612.44 973.10,611.40 976.29,610.36 979.47,609.33 982.66,608.30 985.84,607.28 989.03,606.26 992.21,605.25 995.40,604.24 998.59,603.23 1001.77,602.23 1004.96,601.23 1008.14,600.23 1011.33,599.24 1014.51,598.25 1017.70,597.27 1020.89,596.29 1024.07,595.31 1027.26,594.33 1030.44,593.36 1033.63,592.39 1036.81,591.42 1040.00,590.46 1043.19,589.49 1046.37,588.53 1049.56,587.57 1052.74,586.62 1055.93,585.66 1059.11,584.71 1062.30,583.76 1065.49,582.81 1068.67,581.86 1071.86,580.91 1075.04,579.97 1078.23,579.02 1081.41,578.08 1084.60,577.14 1087.79,576.20 1090.97,575.26 1094.16,574.32 1097.34,573.39 1100.53,572.45 1103.71,571.51 1106.90,570.58 1110.09,569.64 1113.27,568.71 1116.46,567.78 1119.64,566.85 1122.83,565.91 1126.01,564.98 1129.20,564.05 1132.39,563.12 1135.57,562.19 1138.76,561.27 1141.94,560.34 1145.13,559.41 1148.31,558.48 1151.50,557.55 1154.69,556.63 1157.87,555.70 1161.06,554.78 1164.24,553.85 1167.43,552.93 1170.61,552.00 1173.80,551.08 1176.99,550.15 1180.17,549.23 1183.36,548.31 1186.54,547.39 1189.73,546.47 1192.91,545.55 1196.10,544.63 1199.29,543.71 1202.47,542.79 1205.66,541.87 1208.84,540.96 1212.03,540.04 1215.21,539.12 1218.40,538.21 1221.59,537.30 1224.77,536.39 1227.96,535.48 1231.14,534.57 1234.33,533.66 1237.51,532.75 1240.70,531.85 1243.89,530.94 1247.07,530.04 1250.26,529.14 1253.44,528.24 1256.63,527.35 1259.81,526.45 1263.00,525.56 1266.19,524.67 1269.37,523.78 1272.56,522.90 1275.74,522.01 1278.93,521.13 1282.11,520.26 1285.30,519.38 1288.49,518.51 1291.67,517.64 1294.86,516.78 1298.04,515.92 1301.23,515.06 1304.41,514.20 1307.60,513.35 1310.79,512.50 1313.97,511.66 1317.16,510.82 1320.34,509.99 1323.53,509.16 1326.71,508.33 1329.90,507.51 1333.09,506.70 1336.27,505.89 1339.46,505.08 1342.64,504.28 1345.83,503.49 1349.01,502.70 1352.20,501.92 1355.39,501.15 1358.57,500.38 1361.76,499.61 1364.94,498.86 1368.13,498.11 1371.31,497.37 1374.50,496.63" fill="none" stroke="#dc3912" stroke-width="2" stroke-linejoin="round"/>
<g transform="translate(1289.6,485.3) rotate(-90)"><rect x="-31" y="-6" width="62" height="12" fill="#fff"/><text x="0" y="4.3" font-size="12" fill="#000" text-anchor="middle">Armed Ship</text></g>
<line x1="1387" y1="352" x2="1395" y2="352" stroke="#3366cc" stroke-width="4" stroke-linecap="round"/>
<text x="1406" y="356" font-size="13.85" fill="#757575" text-anchor="start" >Shields</text>
<text x="1406" y="370" font-size="13.85" fill="#757575" text-anchor="start" >vs Armor</text>
<text x="1406" y="384" font-size="13.85" fill="#757575" text-anchor="start" >Cur spec</text>
<text x="1406" y="398" font-size="13.85" fill="#757575" text-anchor="start" >weapon</text>
<line x1="1387" y1="418" x2="1395" y2="418" stroke="#dc3912" stroke-width="4" stroke-linecap="round"/>
<text x="1406" y="422" font-size="13.85" fill="#757575" text-anchor="start" >Shields</text>
<text x="1406" y="436" font-size="13.85" fill="#757575" text-anchor="start" >vs Armor</text>
<text x="1406" y="450" font-size="13.85" fill="#757575" text-anchor="start" >Suggest</text>
<text x="1406" y="464" font-size="13.85" fill="#757575" text-anchor="start" >ed spec</text>
<text x="1406" y="478" font-size="13.85" fill="#757575" text-anchor="start" >weapon</text>
</g>
<rect x="4" y="4" width="1" height="1" fill="#000" />
<rect x="4" y="5" width="1" height="1" fill="#000" />
<rect x="5" y="5" width="1" height="1" fill="#000" />
<rect x="4" y="6" width="1" height="1" fill="#000" />
<rect x="5" y="6" width="1" height="1" fill="#fff" />
<rect x="6" y="6" width="1" height="1" fill="#000" />
<rect x="4" y="7" width="1" height="1" fill="#000" />
<rect x="5" y="7" width="1" height="1" fill="#fff" />
<rect x="6" y="7" width="1" height="1" fill="#fff" />
<rect x="7" y="7" width="1" height="1" fill="#000" />
<rect x="4" y="8" width="1" height="1" fill="#000" />
<rect x="5" y="8" width="1" height="1" fill="#fff" />
<rect x="6" y="8" width="1" height="1" fill="#fff" />
<rect x="7" y="8" width="1" height="1" fill="#fff" />
<rect x="8" y="8" width="1" height="1" fill="#000" />
<rect x="4" y="9" width="1" height="1" fill="#000" />
<rect x="5" y="9" width="1" height="1" fill="#fff" />
<rect x="6" y="9" width="1" height="1" fill="#fff" />
<rect x="7" y="9" width="1" height="1" fill="#fff" />
<rect x="8" y="9" width="1" height="1" fill="#fff" />
<rect x="9" y="9" width="1" height="1" fill="#000" />
<rect x="4" y="10" width="1" height="1" fill="#000" />
<rect x="5" y="10" width="1" height="1" fill="#fff" />
<rect x="6" y="10" width="1" height="1" fill="#fff" />
<rect x="7" y="10" width="1" height="1" fill="#fff" />
<rect x="8" y="10" width="1" height="1" fill="#fff" />
<rect x="9" y="10" width="1" height="1" fill="#fff" />
<rect x="10" y="10" width="1" height="1" fill="#000" />
<rect x="4" y="11" width="1" height="1" fill="#000" />
<rect x="5" y="11" width="1" height="1" fill="#fff" />
<rect x="6" y="11" width="1" height="1" fill="#fff" />
<rect x="7" y="11" width="1" height="1" fill="#fff" />
<rect x="8" y="11" width="1" height="1" fill="#fff" />
<rect x="9" y="11" width="1" height="1" fill="#fff" />
<rect x="10" y="11" width="1" height="1" fill="#fff" />
<rect x="11" y="11" width="1" height="1" fill="#000" />
<rect x="4" y="12" width="1" height="1" fill="#000" />
<rect x="5" y="12" width="1" height="1" fill="#fff" />
<rect x="6" y="12" width="1" height="1" fill="#fff" />
<rect x="7" y="12" width="1" height="1" fill="#fff" />
<rect x="8" y="12" width="1" height="1" fill="#fff" />
<rect x="9" y="12" width="1" height="1" fill="#fff" />
<rect x="10" y="12" width="1" height="1" fill="#fff" />
<rect x="11" y="12" width="1" height="1" fill="#fff" />
<rect x="12" y="12" width="1" height="1" fill="#000" />
<rect x="4" y="13" width="1" height="1" fill="#000" />
<rect x="5" y="13" width="1" height="1" fill="#fff" />
<rect x="6" y="13" width="1" height="1" fill="#fff" />
<rect x="7" y="13" width="1" height="1" fill="#fff" />
<rect x="8" y="13" width="1" height="1" fill="#fff" />
<rect x="9" y="13" width="1" height="1" fill="#fff" />
<rect x="10" y="13" width="1" height="1" fill="#fff" />
<rect x="11" y="13" width="1" height="1" fill="#fff" />
<rect x="12" y="13" width="1" height="1" fill="#fff" />
<rect x="13" y="13" width="1" height="1" fill="#000" />
<rect x="4" y="14" width="1" height="1" fill="#000" />
<rect x="5" y="14" width="1" height="1" fill="#fff" />
<rect x="6" y="14" width="1" height="1" fill="#fff" />
<rect x="7" y="14" width="1" height="1" fill="#fff" />
<rect x="8" y="14" width="1" height="1" fill="#fff" />
<rect x="9" y="14" width="1" height="1" fill="#fff" />
<rect x="10" y="14" width="1" height="1" fill="#fff" />
<rect x="11" y="14" width="1" height="1" fill="#fff" />
<rect x="12" y="14" width="1" height="1" fill="#fff" />
<rect x="13" y="14" width="1" height="1" fill="#fff" />
<rect x="14" y="14" width="1" height="1" fill="#000" />
<rect x="4" y="15" width="1" height="1" fill="#000" />
<rect x="5" y="15" width="1" height="1" fill="#fff" />
<rect x="6" y="15" width="1" height="1" fill="#fff" />
<rect x="7" y="15" width="1" height="1" fill="#fff" />
<rect x="8" y="15" width="1" height="1" fill="#fff" />
<rect x="9" y="15" width="1" height="1" fill="#fff" />
<rect x="10" y="15" width="1" height="1" fill="#fff" />
<rect x="11" y="15" width="1" height="1" fill="#000" />
<rect x="12" y="15" width="1" height="1" fill="#000" />
<rect x="13" y="15" width="1" height="1" fill="#000" />
<rect x="14" y="15" width="1" height="1" fill="#000" />
<rect x="15" y="15" width="1" height="1" fill="#000" />
<rect x="4" y="16" width="1" height="1" fill="#000" />
<rect x="5" y="16" width="1" height="1" fill="#fff" />
<rect x="6" y="16" width="1" height="1" fill="#fff" />
<rect x="7" y="16" width="1" height="1" fill="#fff" />
<rect x="8" y="16" width="1" height="1" fill="#000" />
<rect x="9" y="16" width="1" height="1" fill="#fff" />
<rect x="10" y="16" width="1" height="1" fill="#fff" />
<rect x="11" y="16" width="1" height="1" fill="#000" />
<rect x="4" y="17" width="1" height="1" fill="#000" />
<rect x="5" y="17" width="1" height="1" fill="#fff" />
<rect x="6" y="17" width="1" height="1" fill="#fff" />
<rect x="7" y="17" width="1" height="1" fill="#000" />
<rect x="8" y="17" width="1" height="1" fill="#000" />
<rect x="9" y="17" width="1" height="1" fill="#fff" />
<rect x="10" y="17" width="1" height="1" fill="#fff" />
<rect x="11" y="17" width="1" height="1" fill="#000" />
<rect x="4" y="18" width="1" height="1" fill="#000" />
<rect x="5" y="18" width="1" height="1" fill="#fff" />
<rect x="6" y="18" width="1" height="1" fill="#000" />
<rect x="9" y="18" width="1" height="1" fill="#000" />
<rect x="10" y="18" width="1" height="1" fill="#fff" />
<rect x="11" y="18" width="1" height="1" fill="#fff" />
<rect x="12" y="18" width="1" height="1" fill="#000" />
<rect x="4" y="19" width="1" height="1" fill="#000" />
<rect x="5" y="19" width="1" height="1" fill="#000" />
<rect x="9" y="19" width="1" height="1" fill="#000" />
<rect x="10" y="19" width="1" height="1" fill="#fff" />
<rect x="11" y="19" width="1" height="1" fill="#fff" />
<rect x="12" y="19" width="1" height="1" fill="#000" />
<rect x="4" y="20" width="1" height="1" fill="#000" />
<rect x="10" y="20" width="1" height="1" fill="#000" />
<rect x="11" y="20" width="1" height="1" fill="#fff" />
<rect x="12" y="20" width="1" height="1" fill="#fff" />
<rect x="13" y="20" width="1" height="1" fill="#000" />
<rect x="10" y="21" width="1" height="1" fill="#000" />
<rect x="11" y="21" width="1" height="1" fill="#fff" />
<rect x="12" y="21" width="1" height="1" fill="#fff" />
<rect x="13" y="21" width="1" height="1" fill="#000" />
<rect x="11" y="22" width="1" height="1" fill="#000" />
<rect x="12" y="22" width="1" height="1" fill="#000" />
</svg>
</body></html>
